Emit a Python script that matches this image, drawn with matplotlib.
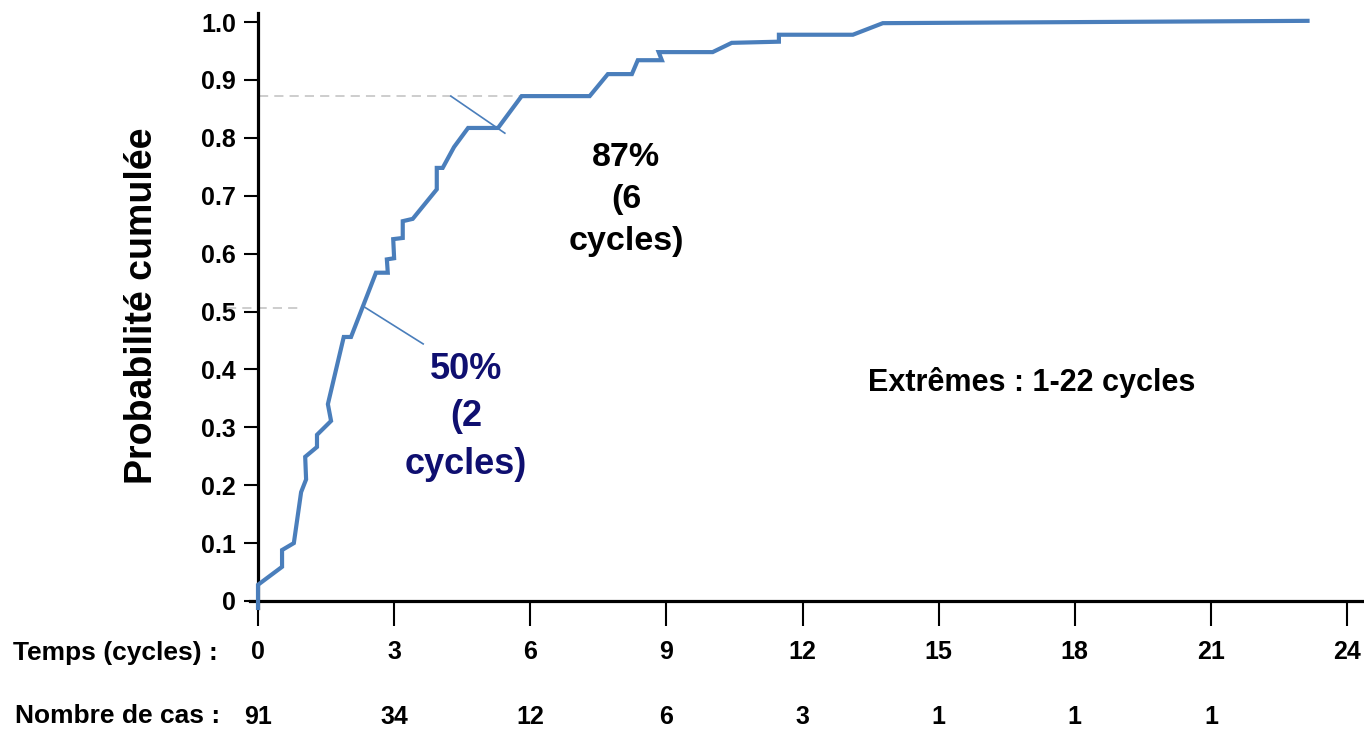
import numpy as np
import matplotlib
matplotlib.use("Agg")
import matplotlib.pyplot as plt
from matplotlib.transforms import blended_transform_factory

plt.rcParams["font.family"] = ["Liberation Sans", "DejaVu Sans"]
plt.rcParams["font.weight"] = "bold"

# ── Courbe de probabilité cumulée (cycles, probabilité) ─────────────────────
cycles = [0.00, 0.00, 0.53, 0.53, 0.79, 0.95, 1.06, 1.04, 1.30, 1.30, 1.61,
          1.54, 1.89, 2.05, 2.60, 2.86, 2.84, 3.00, 2.98, 3.19, 3.19, 3.41,
          3.94, 3.94, 4.07, 4.32, 4.63, 5.29, 5.81, 7.31, 7.71, 8.24, 8.37,
          8.90, 8.83, 10.02, 10.44, 11.48, 11.48, 13.11, 13.77, 23.13]
prob = [-0.012, 0.028, 0.059, 0.088, 0.100, 0.188, 0.210, 0.249, 0.266,
        0.287, 0.311, 0.340, 0.456, 0.456, 0.567, 0.567, 0.590, 0.592, 0.625,
        0.627, 0.656, 0.660, 0.711, 0.748, 0.748, 0.784, 0.817, 0.817, 0.872,
        0.872, 0.910, 0.910, 0.934, 0.934, 0.948, 0.948, 0.964, 0.966, 0.978,
        0.978, 0.998, 1.002]

x_ticks = [0, 3, 6, 9, 12, 15, 18, 21, 24]
y_ticks = [0, 0.1, 0.2, 0.3, 0.4, 0.5, 0.6, 0.7, 0.8, 0.9, 1.0]
y_ticklabels = ["0", "0.1", "0.2", "0.3", "0.4", "0.5", "0.6", "0.7", "0.8",
                "0.9", "1.0"]
case_times = [0, 3, 6, 9, 12, 15, 18, 21]
case_counts = [91, 34, 12, 6, 3, 1, 1, 1]

median_p, median_t = 0.5, 2
p87, t87 = 0.87, 6

BLUE = "#4a7ebb"
NAVY = "#0f0f70"
DASH = "#c0c0c0"

# ── Layout (pixel geometry of the canvas) ──────────────────────────────────
W, H = 1364, 736
X0_PX, X24_PX = 258, 1347       # x = 0 and x = 24
Y0_PX, Y1_PX = 601, 22          # y = 0 and y = 1
XLIM = (-1.0, 24.37)
YLIM = (-0.03, 1.03)

px_x = (X24_PX - X0_PX) / 24.0
px_y = (Y0_PX - Y1_PX) / 1.0
left = X0_PX + XLIM[0] * px_x
right = X0_PX + XLIM[1] * px_x
bottom = Y0_PX - YLIM[0] * px_y
top = Y0_PX - YLIM[1] * px_y

fig = plt.figure(figsize=(W / 100, H / 100), dpi=100, facecolor="white")
ax = fig.add_axes([left / W, 1 - bottom / H, (right - left) / W,
                   (bottom - top) / H])
ax.set_xlim(*XLIM)
ax.set_ylim(*YLIM)
ax.patch.set_visible(False)

for s in ("top", "right"):
    ax.spines[s].set_visible(False)
ax.spines["left"].set_position(("data", 0))
ax.spines["bottom"].set_position(("data", 0))
ax.spines["left"].set_bounds(-0.012, 1.015)
ax.spines["bottom"].set_bounds(-0.18, XLIM[1])
for s in ("left", "bottom"):
    ax.spines[s].set_linewidth(2.3)
    ax.spines[s].set_color("black")

ax.set_yticks(y_ticks)
ax.set_yticklabels(y_ticklabels)
ax.set_xticks(x_ticks)
ax.set_xticklabels([str(t) for t in x_ticks])
ax.tick_params(axis="y", direction="out", length=10, width=1.5, pad=6,
               labelsize=18)
ax.tick_params(axis="x", direction="out", length=18, width=1.5, pad=10,
               labelsize=18)

# ── Courbe ────────────────────────────────────────────────────────────────
ax.plot(cycles, prob, color=BLUE, lw=3.0, solid_joinstyle="miter",
        zorder=3, clip_on=False)

# repères 50 % et 87 %
ax.plot([-0.68, 0.93], [0.506, 0.506], color=DASH, lw=1.1,
        dashes=(6, 4), clip_on=False, zorder=2)
ax.plot([0.02, 5.77], [0.872, 0.872], color=DASH, lw=1.1,
        dashes=(6, 4), clip_on=False, zorder=2)

ax.plot([2.34, 3.64], [0.508, 0.444], color=BLUE, lw=1.2, zorder=3)
ax.plot([4.25, 5.44], [0.872, 0.808], color=BLUE, lw=1.2, zorder=3)

ax.text(4.58, 0.318, f"{median_p:.0%}\n({median_t}\ncycles)", color=NAVY,
        fontsize=26, ha="center", va="center", linespacing=1.45)
ax.text(8.11, 0.693, f"{p87:.0%}\n({t87}\ncycles)", color="black",
        fontsize=24.5, ha="center", va="center", linespacing=1.45)
ax.text(17.04, 0.378, "Extrêmes : 1-22 cycles", color="black",
        fontsize=22, ha="center", va="center")

fig.text(142 / W, 1 - 306 / H, "Probabilité cumulée", rotation=90,
         fontsize=27, ha="center", va="center")

# ── Lignes sous l'axe ─────────────────────────────────────────────────────
fig.text(13 / W, 1 - 653 / H, "Temps (cycles) :", fontsize=19,
         ha="left", va="center")
fig.text(15 / W, 1 - 716 / H, "Nombre de cas :", fontsize=19,
         ha="left", va="center")

trans = blended_transform_factory(ax.transData, fig.transFigure)
for t, n in zip(case_times, case_counts):
    ax.text(t, 1 - 717 / H, str(n), transform=trans, fontsize=18,
            ha="center", va="center")

fig.savefig("out.png", dpi=100, facecolor="white")
